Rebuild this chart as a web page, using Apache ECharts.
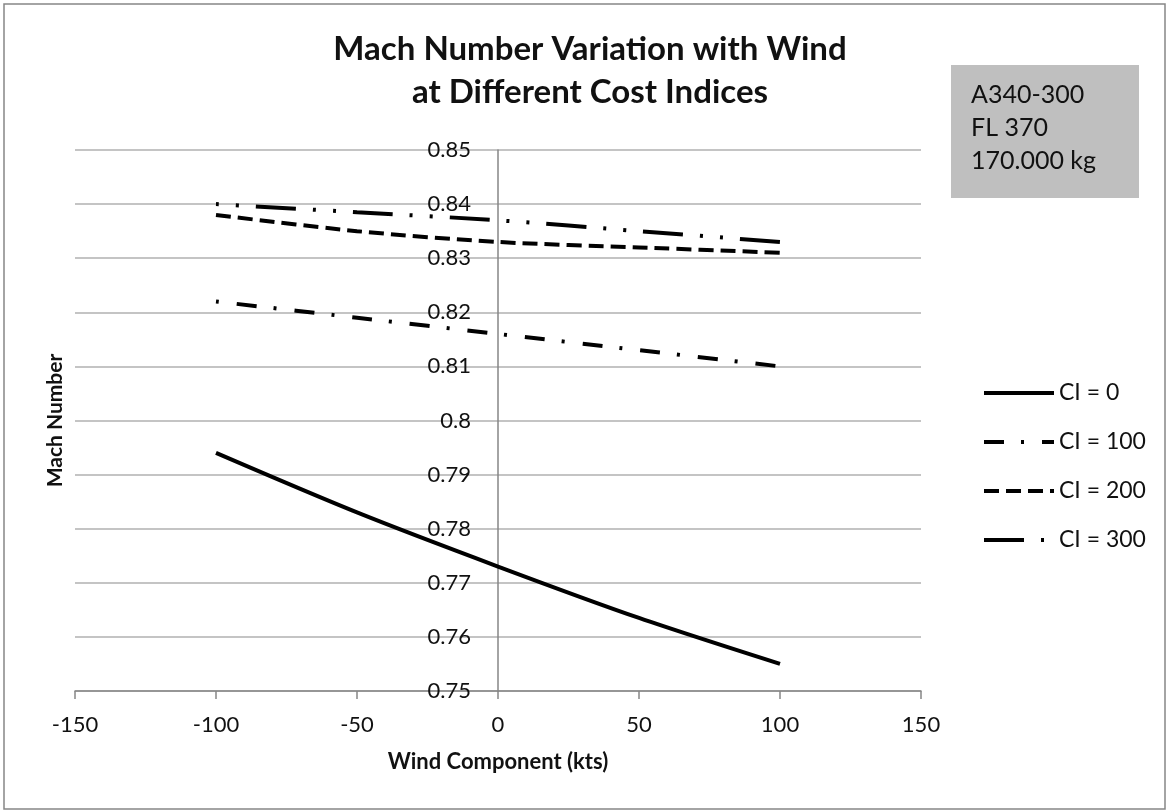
<!DOCTYPE html>
<html>
<head>
<meta charset="utf-8">
<title>Mach Number Variation with Wind</title>
<script src="https://cdn.jsdelivr.net/npm/echarts@6/dist/echarts.min.js"></script>
<style>
  html, body { margin: 0; padding: 0; background: #fff; }
  #chart { width: 1169px; height: 812px; }
</style>
</head>
<body>
<div id="chart"></div>
<script>
// Wind component (kts) at which each cost index was computed
const windKts = [-100, -50, 0, 50, 100];

// Mach number per cost index
const machCI0   = [0.794, 0.783, 0.773, 0.7635, 0.755];
const machCI100 = [0.822, 0.819, 0.816, 0.813, 0.810];
const machCI200 = [0.838, 0.835, 0.833, 0.832, 0.831];
const machCI300 = [0.840, 0.8385, 0.837, 0.835, 0.833];

const seriesNames = ['CI = 0', 'CI = 100', 'CI = 200', 'CI = 300'];
const infoLines = ['A340-300', 'FL 370', '170.000 kg'];

const FONT = 'Lato, "Open Sans", sans-serif';
const INK = '#111';
const AXIS_GREY = '#868686';
const GRID_GREY = '#b0b0b0';

// grid box; the y axis sits at wind = 0, i.e. half-way across
const GRID_LEFT = 75, GRID_RIGHT = 248;
const GRID_W = 1169 - GRID_LEFT - GRID_RIGHT;

// dash patterns in px (Excel-ish: dash-dot, short dash, long dash-dot-dot)
const DASH = {
  solid:   'solid',
  dashDot: [20, 17, 3, 18],
  dash:    [15, 7],
  longDashDotDot: [40, 17, 3, 17, 3, 17],
};

function pairs(ys) { return windKts.map((x, i) => [x, ys[i]]); }

function lineSeries(name, ys, type, offset) {
  return {
    name,
    type: 'line',
    data: pairs(ys),
    smooth: 0.3,
    symbol: 'none',
    lineStyle: { color: '#000', width: 4, type, dashOffset: offset || 0, cap: 'butt' },
    itemStyle: { color: '#000' },
  };
}

const chart = echarts.init(document.getElementById('chart'), null, { renderer: 'canvas' });

chart.setOption({
  backgroundColor: '#fff',
  animation: false,
  textStyle: { fontFamily: FONT, color: INK },
  title: {
    text: 'Mach Number Variation with Wind\nat Different Cost Indices',
    left: 590, top: 28, textAlign: 'center', padding: 0,
    textStyle: { fontFamily: FONT, fontSize: 33, fontWeight: 'bold', color: INK, lineHeight: 43 },
  },
  legend: {
    orient: 'vertical',
    left: 982, top: 381, padding: 0,
    itemWidth: 70, itemHeight: 24, itemGap: 25,
    data: seriesNames,
    itemStyle: { opacity: 0 },
    lineStyle: { width: 4, dashOffset: 0 },
    textStyle: { fontFamily: FONT, fontSize: 23, color: INK, lineHeight: 24 },
  },
  grid: { left: GRID_LEFT, right: GRID_RIGHT, top: 150, bottom: 121, outerBoundsMode: 'none', containLabel: false },
  xAxis: {
    type: 'value',
    min: -150, max: 150, interval: 50,
    name: 'Wind Component (kts)',
    nameLocation: 'middle', nameGap: 60,
    nameTextStyle: { fontFamily: FONT, fontSize: 22, fontWeight: 'bold', color: INK },
    axisLine: { lineStyle: { color: AXIS_GREY, width: 1.5 } },
    axisTick: { show: true, length: 8, lineStyle: { color: AXIS_GREY, width: 1.5 } },
    axisLabel: { fontFamily: FONT, fontSize: 22, color: INK, margin: 23 },
    splitLine: { show: false },
  },
  yAxis: {
    type: 'value',
    min: 0.75, max: 0.85, interval: 0.01,
    offset: -GRID_W / 2,
    name: 'Mach Number',
    nameLocation: 'middle', nameGap: 432,
    nameTextStyle: { fontFamily: FONT, fontSize: 21, fontWeight: 'bold', color: INK },
    axisLine: { show: true, onZero: false, lineStyle: { color: AXIS_GREY, width: 1.5 } },
    axisTick: { show: false },
    axisLabel: { fontFamily: FONT, fontSize: 22, color: INK, margin: 27 },
    splitLine: { show: true, lineStyle: { color: GRID_GREY, width: 1.5 } },
  },
  graphic: [
    // outer chart frame
    {
      type: 'rect', silent: true, z: -1,
      shape: { x: 4, y: 4, width: 1161, height: 805 },
      style: { fill: 'none', stroke: AXIS_GREY, lineWidth: 1.5 },
    },
    // aircraft / flight-level info box
    {
      type: 'rect', silent: true,
      shape: { x: 951, y: 65, width: 188, height: 133 },
      style: { fill: '#bfbfbf', stroke: 'none' },
    },
    {
      type: 'text', silent: true,
      x: 971, y: 78,
      style: {
        text: infoLines.join('\n'),
        fontFamily: FONT, fontSize: 25, lineHeight: 33,
        fill: INK, verticalAlign: 'top', align: 'left',
      },
    },
  ],
  series: [
    lineSeries(seriesNames[0], machCI0, DASH.solid),
    lineSeries(seriesNames[1], machCI100, DASH.dashDot, 37),
    lineSeries(seriesNames[2], machCI200, DASH.dash),
    lineSeries(seriesNames[3], machCI300, DASH.longDashDotDot, 57),
  ],
});
</script>
</body>
</html>
